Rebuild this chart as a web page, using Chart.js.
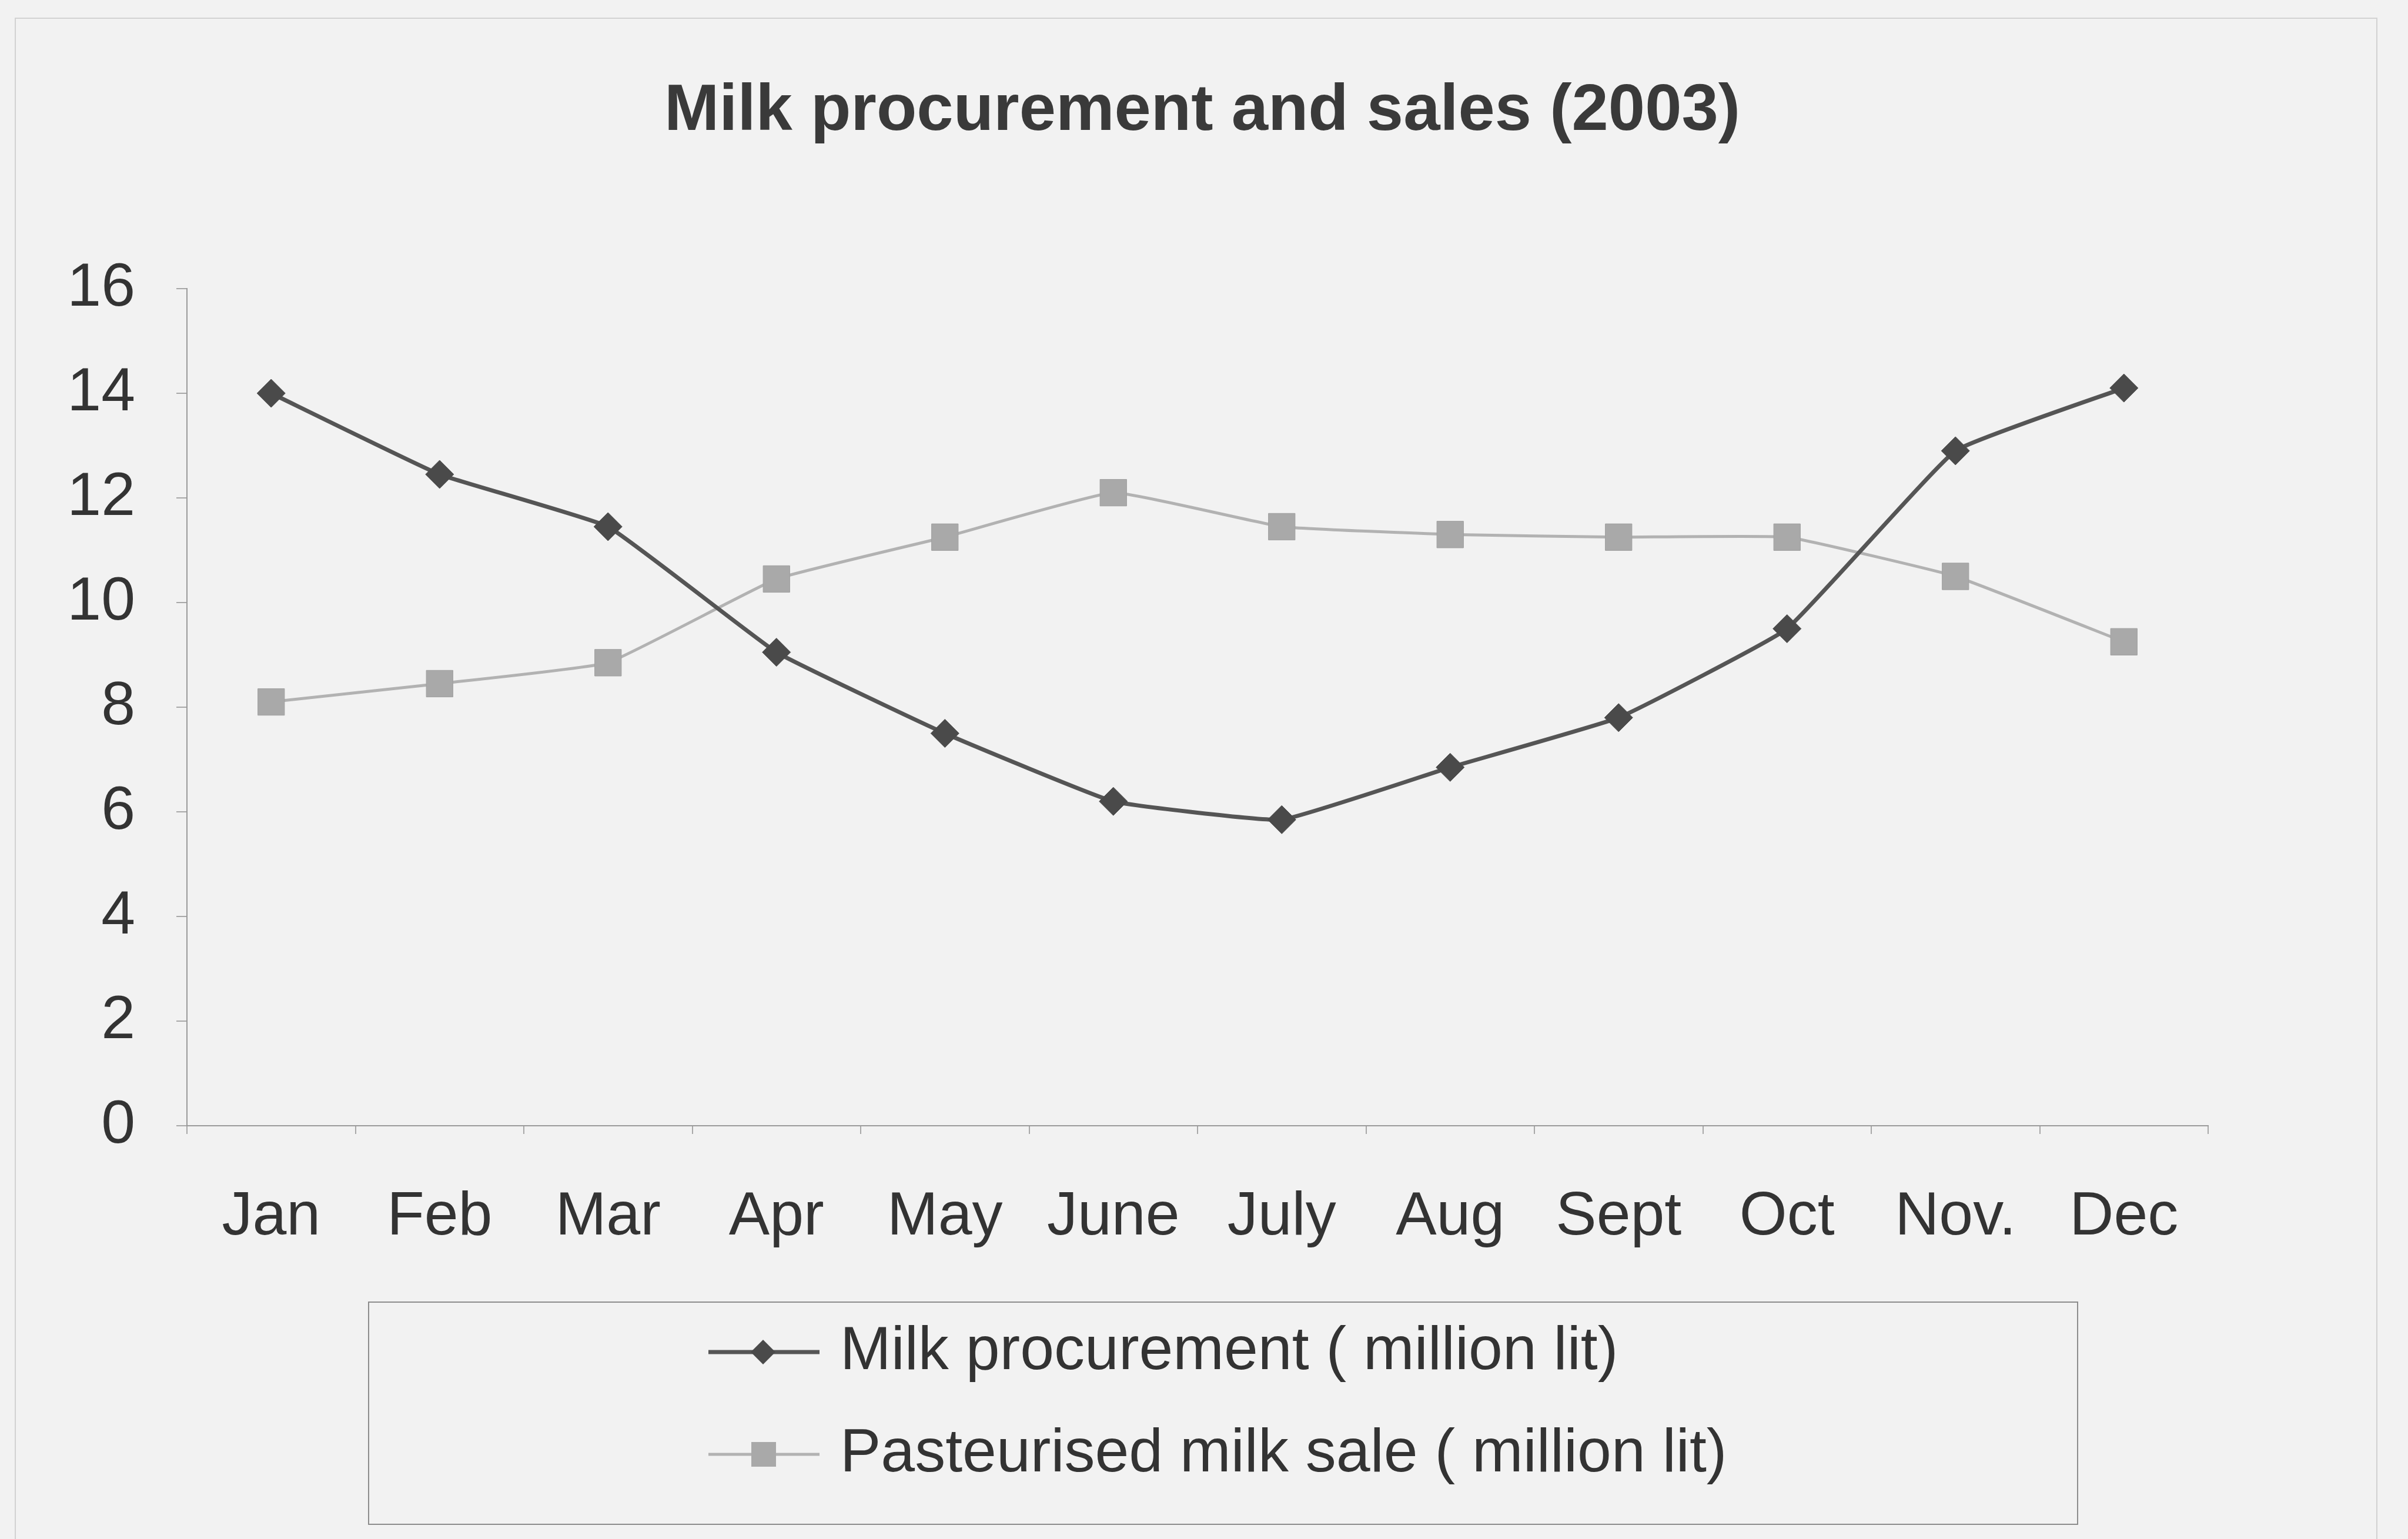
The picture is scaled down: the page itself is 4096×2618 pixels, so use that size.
<!DOCTYPE html>
<html>
<head>
<meta charset="utf-8">
<title>Milk procurement and sales (2003)</title>
<script src="https://cdn.jsdelivr.net/npm/chart.js@4.4.1/dist/chart.umd.min.js"></script>
<style>
    html, body { margin: 0; padding: 0; background: #f2f2f2; }
    #wrap { width: 4096px; height: 2618px; }
</style>
</head>
<body>
<div id="wrap"><canvas id="milkChart" width="4096" height="2618"></canvas></div>
<script>
// values (million litres)
const months = ['Jan', 'Feb', 'Mar', 'Apr', 'May', 'June', 'July', 'Aug', 'Sept', 'Oct', 'Nov.', 'Dec'];
const procurement = [14.0, 12.45, 11.45, 9.05, 7.5, 6.2, 5.85, 6.85, 7.8, 9.5, 12.9, 14.1];
const pasteurisedSale = [8.1, 8.45, 8.85, 10.45, 11.25, 12.1, 11.45, 11.3, 11.25, 11.25, 10.5, 9.25];
const yTicks = [0, 2, 4, 6, 8, 10, 12, 14, 16];

const TITLE = 'Milk procurement and sales (2003)';
const FONT = '"Liberation Sans", Arial, sans-serif';

// draws background, faint frame, title and the boxed legend
const decorPlugin = {
    id: 'decor',
    beforeDraw(chart) {
        const ctx = chart.ctx;
        ctx.save();
        ctx.fillStyle = '#f2f2f2';
        ctx.fillRect(0, 0, chart.width, chart.height);
        ctx.strokeStyle = '#d2d2d2';
        ctx.lineWidth = 2;
        ctx.beginPath();
        ctx.moveTo(26, chart.height);
        ctx.lineTo(26, 31);
        ctx.lineTo(4043, 31);
        ctx.lineTo(4043, chart.height);
        ctx.stroke();
        ctx.restore();
    },
    afterDraw(chart) {
        const ctx = chart.ctx;
        ctx.save();
        // title
        ctx.fillStyle = '#3a3a3a';
        ctx.font = 'bold 112px ' + FONT;
        ctx.textAlign = 'center';
        ctx.textBaseline = 'middle';
        ctx.fillText(TITLE, 2045, 190);

        // legend box
        ctx.strokeStyle = '#8c8c8c';
        ctx.lineWidth = 2;
        ctx.strokeRect(627, 2215, 2907, 378);

        const rows = [2300, 2474];
        ctx.font = '104px ' + FONT;
        ctx.textAlign = 'left';
        chart.data.datasets.forEach((ds, i) => {
            const y = rows[i];
            ctx.strokeStyle = ds.borderColor;
            ctx.lineWidth = ds.borderWidth;
            ctx.beginPath();
            ctx.moveTo(1205, y);
            ctx.lineTo(1394, y);
            ctx.stroke();
            ctx.fillStyle = ds.pointBackgroundColor;
            ctx.beginPath();
            if (ds.pointStyle === 'rectRot') {
                ctx.moveTo(1298, y - 21);
                ctx.lineTo(1319, y);
                ctx.lineTo(1298, y + 21);
                ctx.lineTo(1277, y);
                ctx.closePath();
            } else {
                ctx.rect(1278, y - 21, 42, 42);
            }
            ctx.fill();
            ctx.fillStyle = '#333333';
            ctx.fillText(ds.label, 1429, y);
        });
        ctx.restore();
    }
};

const ctx = document.getElementById('milkChart').getContext('2d');
new Chart(ctx, {
    type: 'line',
    data: {
        labels: months,
        datasets: [{
            label: 'Milk procurement ( million lit)',
            data: procurement,
            borderColor: '#555555',
            borderWidth: 7,
            pointStyle: 'rectRot',
            pointRadius: 24,
            pointBackgroundColor: '#4a4a4a',
            pointBorderColor: '#4a4a4a',
            pointBorderWidth: 1,
            tension: 0.1
        }, {
            label: 'Pasteurised milk sale ( million lit)',
            data: pasteurisedSale,
            borderColor: '#b2b2b2',
            borderWidth: 5,
            pointStyle: 'rect',
            pointRadius: 32,
            pointBackgroundColor: '#a9a9a9',
            pointBorderColor: '#9f9f9f',
            pointBorderWidth: 1,
            tension: 0.1
        }]
    },
    options: {
        responsive: false,
        animation: false,
        devicePixelRatio: 1,
        layout: { padding: { top: 491, right: 340, bottom: 443, left: 0 } },
        plugins: {
            legend: { display: false },
            title: { display: false },
            tooltip: { enabled: false }
        },
        scales: {
            x: {
                offset: true,
                afterFit: (scale) => { scale.height = 260; },
                border: { color: '#9a9a9a', width: 2 },
                grid: { display: true, drawOnChartArea: false, offset: true, color: '#a8a8a8', tickLength: 14, lineWidth: 2 },
                ticks: {
                    color: '#333333',
                    padding: 80,
                    maxRotation: 0,
                    autoSkip: false,
                    font: { family: FONT, size: 104 }
                }
            },
            y: {
                min: 0,
                max: 16,
                afterFit: (scale) => { scale.width = 318; },
                afterBuildTicks: (scale) => { scale.ticks = yTicks.map(v => ({ value: v })); },
                border: { color: '#9a9a9a', width: 2 },
                grid: { display: true, drawOnChartArea: false, color: '#a8a8a8', tickLength: 18, lineWidth: 2 },
                ticks: {
                    color: '#333333',
                    padding: 70,
                    font: { family: FONT, size: 104 }
                }
            }
        }
    },
    plugins: [decorPlugin]
});
</script>
</body>
</html>
